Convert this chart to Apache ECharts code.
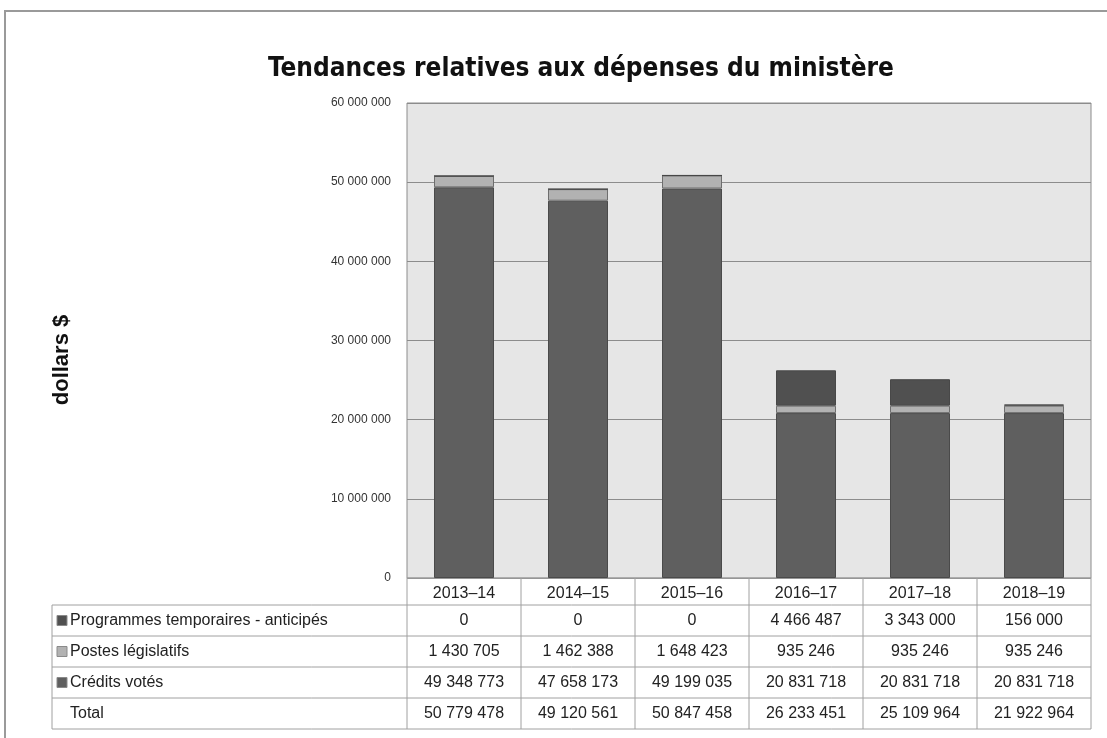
<!DOCTYPE html>
<html>
<head>
<meta charset="utf-8">
<script src="https://cdn.jsdelivr.net/npm/echarts@6/dist/echarts.min.js"></script>
<style>
  html, body { margin: 0; padding: 0; background: #fff; }
  #chart { width: 1107px; height: 738px; }
</style>
</head>
<body>
<div id="chart"></div>
<script>
// données du graphique
const years = ['2013–14', '2014–15', '2015–16', '2016–17', '2017–18', '2018–19'];
const programmes = [0, 0, 0, 4466487, 3343000, 156000];
const postes = [1430705, 1462388, 1648423, 935246, 935246, 935246];
const credits = [49348773, 47658173, 49199035, 20831718, 20831718, 20831718];
const totals = [50779478, 49120561, 50847458, 26233451, 25109964, 21922964];
const rowLabels = ['Programmes temporaires - anticipés', 'Postes législatifs', 'Crédits votés', 'Total'];
const rowKeys = ['#505050', '#b2b2b2', '#5f5f5f', null];
const yMax = 60000000;
const yStep = 10000000;

const fmt = n => String(n).replace(/\B(?=(\d{3})+(?!\d))/g, ' ');

// mise en page
const G = { left: 407, top: 103, width: 684, height: 475 };
const tableLeft = 52;
const rowTops = [605, 636, 667, 698, 729];
const lineCol = '#a0a0a0';

const chart = echarts.init(document.getElementById('chart'));

const option = {
  backgroundColor: '#fff',
  animation: false,
  textStyle: { fontFamily: 'Liberation Sans, Arial, sans-serif' },
  title: {
    text: 'Tendances relatives aux dépenses du ministère',
    left: 263,
    top: 51,
    textStyle: {
      fontFamily: 'Liberation Sans Narrow, DejaVu Sans Condensed, sans-serif',
      fontSize: 26, fontWeight: 'bold', color: '#111'
    }
  },
  grid: {
    left: G.left, top: G.top, width: G.width, height: G.height,
    show: true, backgroundColor: '#e6e6e6', borderColor: '#8c8c8c', borderWidth: 1
  },
  xAxis: {
    type: 'category',
    data: years,
    axisLine: { show: false },
    axisTick: { show: false },
    axisLabel: { fontSize: 16, color: '#222', margin: 8 }
  },
  yAxis: {
    type: 'value',
    min: 0, max: yMax, interval: yStep,
    axisLine: { show: false },
    axisTick: { show: false },
    axisLabel: { fontSize: 12, color: '#333', margin: 16, formatter: v => fmt(v) },
    splitLine: { lineStyle: { color: '#8c8c8c', width: 1 } }
  },
  series: [
    {
      name: 'Crédits votés', type: 'bar', stack: 't', data: credits, barWidth: 60,
      itemStyle: { color: '#5f5f5f', borderColor: '#4a4a4a', borderWidth: 1 }
    },
    {
      name: 'Postes législatifs', type: 'bar', stack: 't', data: postes,
      itemStyle: { color: '#b2b2b2', borderColor: '#6e6e6e', borderWidth: 1 }
    },
    {
      name: 'Programmes temporaires - anticipés', type: 'bar', stack: 't', data: programmes,
      itemStyle: { color: '#505050', borderColor: '#484848', borderWidth: 1 }
    }
  ]
};
chart.setOption(option);

// tableau de données sous le graphique
const elems = [];
const colW = G.width / years.length;
const right = G.left + G.width;
const bottom = rowTops[rowTops.length - 1];
const rowsData = [programmes, postes, credits, totals];

// cadre extérieur
elems.push({ type: 'rect', shape: { x: 5, y: 11, width: 1120, height: 740 },
  style: { fill: null, stroke: '#9a9a9a', lineWidth: 2 }, silent: true });

// titre de l'axe vertical
elems.push({ type: 'text', x: 62, y: 360, rotation: Math.PI / 2,
  style: { text: 'dollars $', fontSize: 22, fontWeight: 'bold', fill: '#111',
    align: 'center', verticalAlign: 'middle', fontFamily: 'Liberation Sans, Arial, sans-serif' } });

// lignes horizontales
elems.push({ type: 'line', shape: { x1: G.left, y1: G.top + G.height, x2: right, y2: G.top + G.height }, style: { stroke: lineCol } });
rowTops.forEach(y => {
  elems.push({ type: 'line', shape: { x1: tableLeft, y1: y, x2: right, y2: y }, style: { stroke: lineCol } });
});
// lignes verticales
elems.push({ type: 'line', shape: { x1: tableLeft, y1: rowTops[0], x2: tableLeft, y2: bottom }, style: { stroke: lineCol } });
for (let i = 0; i <= years.length; i++) {
  const x = G.left + i * colW;
  elems.push({ type: 'line', shape: { x1: x, y1: G.top + G.height, x2: x, y2: bottom }, style: { stroke: lineCol } });
}
// libellés et valeurs
rowLabels.forEach((lab, r) => {
  const yc = (rowTops[r] + rowTops[r + 1]) / 2;
  if (rowKeys[r]) {
    elems.push({ type: 'rect', shape: { x: tableLeft + 5, y: yc - 5, width: 10, height: 10 },
      style: { fill: rowKeys[r], stroke: '#8a8a8a', lineWidth: 1 } });
  }
  elems.push({ type: 'text', x: tableLeft + 18, y: yc,
    style: { text: lab, fontSize: 16, fill: '#222', verticalAlign: 'middle', align: 'left',
      fontFamily: 'Liberation Sans, Arial, sans-serif' } });
  rowsData[r].forEach((v, c) => {
    elems.push({ type: 'text', x: G.left + (c + 0.5) * colW, y: yc,
      style: { text: fmt(v), fontSize: 16, fill: '#222', align: 'center', verticalAlign: 'middle',
        fontFamily: 'Liberation Sans, Arial, sans-serif' } });
  });
});
chart.setOption({ graphic: { elements: elems } });
</script>
</body>
</html>
